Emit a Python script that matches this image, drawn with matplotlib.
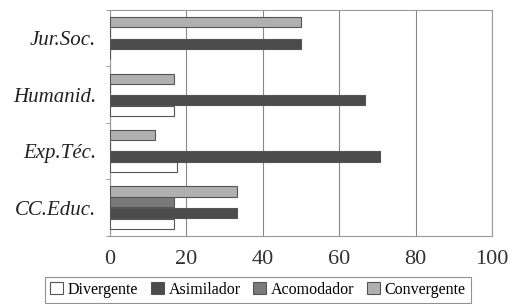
import numpy as np
import matplotlib
matplotlib.use('Agg')
import matplotlib.pyplot as plt

# data (percentages), categories from bottom to top
categories = ['CC.Educ.', 'Exp.Téc.', 'Humanid.', 'Jur.Soc.']
series = ['Divergente', 'Asimilador', 'Acomodador', 'Convergente']
divergente = [16.7, 17.6, 16.7, 0]
asimilador = [33.3, 70.6, 66.7, 50]
acomodador = [16.7, 0, 0, 0]
convergente = [33.3, 11.8, 16.7, 50]
colors = ['#ffffff', '#4b4b4b', '#7a7a7a', '#b0b0b0']

plt.rcParams['font.family'] = ['Liberation Serif', 'DejaVu Serif']

fig = plt.figure(figsize=(5.19, 3.04), dpi=100)
ax = fig.add_axes([0.212, 0.224, 0.736, 0.743])

y = np.arange(len(categories))
h = 0.19
values = [divergente, asimilador, acomodador, convergente]
for i, (name, vals) in enumerate(zip(series, values)):
    ax.barh(y + (i - 1.5) * h, vals, height=h * 0.95, color=colors[i],
            edgecolor='#555555', linewidth=0.8, label=name, zorder=3)

ax.set_xlim(0, 100)
ax.set_ylim(-0.5, len(categories) - 0.5)
ax.set_xticks([0, 20, 40, 60, 80, 100])
ax.tick_params(axis='x', length=0, labelsize=16, pad=10, colors='#333333')
ax.set_yticks(y)
ax.set_yticklabels(categories, fontstyle='italic', fontsize=15)
ax.tick_params(axis='y', length=0, pad=10, colors='#222222')
ax.set_yticks(np.arange(len(categories) + 1) - 0.5, minor=True)
ax.tick_params(axis='y', which='minor', length=3, color='#888888')
ax.xaxis.grid(True, color='#888888', linewidth=0.8, zorder=0)
for s in ax.spines.values():
    s.set_color('#999999')
    s.set_linewidth(0.8)

leg = fig.legend(loc='upper center', bbox_to_anchor=(0.497, 0.115), ncol=4,
                 fontsize=11.5, frameon=True, fancybox=False, edgecolor='#777777',
                 handlelength=0.8, handleheight=0.8, handletextpad=0.3,
                 columnspacing=0.8, borderpad=0.3)
leg.get_frame().set_linewidth(0.8)

fig.savefig('out.png', dpi=100)
